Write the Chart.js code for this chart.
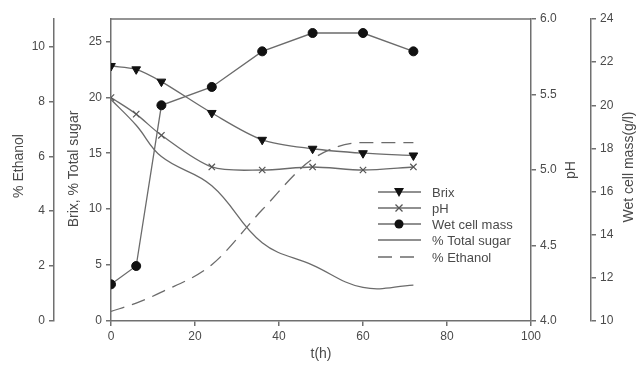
<!DOCTYPE html>
<html>
<head>
<meta charset="utf-8">
<script src="https://cdn.jsdelivr.net/npm/chart.js@4/dist/chart.umd.min.js"></script>
<style>
  html, body { margin: 0; padding: 0; background: #fff; }
  #wrap { width: 640px; height: 370px; }
</style>
</head>
<body>
<div id="wrap"><canvas id="fermChart" width="640" height="370"></canvas></div>
<script>
// fermentation data
const hours = [0, 6, 12, 24, 36, 48, 60, 72];
const brix = [22.8, 22.5, 21.4, 18.6, 16.2, 15.4, 15.0, 14.8];
const pH = [5.48, 5.37, 5.23, 5.02, 5.00, 5.02, 5.00, 5.02];
const wetCellMass = [11.7, 12.55, 20.0, 20.85, 22.5, 23.35, 23.35, 22.5];
const totalSugar = [19.8, 17.5, 14.7, 12.1, 7.0, 5.0, 3.0, 3.2];
const ethanol = [0.35, 0.65, 1.05, 2.05, 4.05, 5.9, 6.5, 6.5];

const seriesNames = ["Brix", "pH", "Wet cell mass", "% Total sugar", "% Ethanol"];
const axisTitles = ["% Ethanol", "Brix, % Total sugar", "pH", "Wet cell mass(g/l)", "t(h)"];

const LINE = '#6b6b6b';
const AXIS = '#707070';
const TEXT = '#4a4a4a';
const FONT = "'Liberation Sans', Arial, sans-serif";

function pts(ys) {
  return hours.map(function(h, i) { return { x: h, y: ys[i] }; });
}

function fixWidth(w) {
  return function(scale) { scale.width = w; };
}

function yAxis(pos, weight, min, max, step, width, fmt, keep) {
  return {
    type: 'linear',
    position: pos,
    weight: weight,
    min: min,
    max: max,
    afterFit: fixWidth(width),
    afterBuildTicks: function(scale) {
      scale.ticks = scale.ticks.filter(function(t) { return keep(t.value); });
    },
    border: { display: true, color: AXIS, width: 1.5 },
    grid: { display: true, drawOnChartArea: false, drawTicks: true, tickLength: 5, color: AXIS, lineWidth: 1.5 },
    ticks: {
      stepSize: step,
      padding: 4,
      color: TEXT,
      font: { family: FONT, size: 12 },
      callback: fmt
    }
  };
}

// frame, rotated axis titles and the legend inside the plot
const extras = {
  id: 'extras',
  afterDraw: function(chart) {
    const ctx = chart.ctx;
    const a = chart.chartArea;
    ctx.save();
    ctx.strokeStyle = AXIS;
    ctx.lineWidth = 1.5;
    ctx.beginPath();
    ctx.moveTo(a.left, a.top);
    ctx.lineTo(a.right, a.top);
    ctx.stroke();

    ctx.fillStyle = TEXT;
    ctx.font = '14px ' + FONT;
    ctx.textAlign = 'center';
    ctx.textBaseline = 'middle';
    const titlePos = [[19, 166], [74, 169], [571, 170], [629, 167]];
    titlePos.forEach(function(p, i) {
      ctx.save();
      ctx.translate(p[0], p[1]);
      ctx.rotate(-Math.PI / 2);
      ctx.fillText(axisTitles[i], 0, 0);
      ctx.restore();
    });
    ctx.fillText(axisTitles[4], 321, 354);

    // legend
    const rows = [192, 208, 224, 240, 257];
    ctx.font = '13px ' + FONT;
    ctx.textAlign = 'left';
    rows.forEach(function(y, i) {
      ctx.strokeStyle = LINE;
      ctx.lineWidth = 1.3;
      if (i === 4) {
        ctx.setLineDash([14, 8]);
      } else {
        ctx.setLineDash([]);
      }
      ctx.beginPath();
      ctx.moveTo(378, y);
      ctx.lineTo(421, y);
      ctx.stroke();
      ctx.setLineDash([]);
      const cx = 399;
      if (i === 0) {
        ctx.fillStyle = '#111';
        ctx.beginPath();
        ctx.moveTo(cx - 5, y - 4);
        ctx.lineTo(cx + 5, y - 4);
        ctx.lineTo(cx, y + 5);
        ctx.closePath();
        ctx.fill();
      } else if (i === 1) {
        ctx.strokeStyle = '#555';
        ctx.beginPath();
        ctx.moveTo(cx - 3.5, y - 3.5); ctx.lineTo(cx + 3.5, y + 3.5);
        ctx.moveTo(cx + 3.5, y - 3.5); ctx.lineTo(cx - 3.5, y + 3.5);
        ctx.stroke();
      } else if (i === 2) {
        ctx.fillStyle = '#111';
        ctx.beginPath();
        ctx.arc(cx, y, 4.5, 0, Math.PI * 2);
        ctx.fill();
      }
      ctx.fillStyle = TEXT;
      ctx.fillText(seriesNames[i], 432, y + 1);
    });
    ctx.restore();
  }
};

const fermChart = new Chart(document.getElementById('fermChart'), {
  type: 'line',
  data: {
    datasets: [
      {
        label: seriesNames[0], data: pts(brix), yAxisID: 'yBrix',
        borderColor: LINE, borderWidth: 1.3, tension: 0.3,
        pointStyle: 'triangle', pointRotation: 180, pointRadius: 5,
        pointBackgroundColor: '#111', pointBorderColor: '#111', pointBorderWidth: 1
      },
      {
        label: seriesNames[1], data: pts(pH), yAxisID: 'yPH',
        borderColor: LINE, borderWidth: 1.3, tension: 0.3,
        pointStyle: 'crossRot', pointRadius: 4.5,
        pointBorderColor: '#555', pointBorderWidth: 1.2
      },
      {
        label: seriesNames[2], data: pts(wetCellMass), yAxisID: 'yWet',
        borderColor: LINE, borderWidth: 1.3, tension: 0,
        pointStyle: 'circle', pointRadius: 4.5,
        pointBackgroundColor: '#111', pointBorderColor: '#111', pointBorderWidth: 1
      },
      {
        label: seriesNames[3], data: pts(totalSugar), yAxisID: 'yBrix',
        borderColor: LINE, borderWidth: 1.3, tension: 0.4, pointRadius: 0
      },
      {
        label: seriesNames[4], data: pts(ethanol), yAxisID: 'yEth',
        borderColor: LINE, borderWidth: 1.3, cubicInterpolationMode: 'monotone', pointRadius: 0,
        borderDash: [14, 8]
      }
    ]
  },
  options: {
    responsive: false,
    animation: false,
    layout: { padding: { top: 19, left: 0, right: 0, bottom: 0 } },
    plugins: {
      legend: { display: false },
      tooltip: { enabled: false }
    },
    scales: {
      x: {
        type: 'linear',
        min: 0,
        max: 100,
        afterFit: function(scale) { scale.height = 49; },
        border: { display: true, color: AXIS, width: 1.5 },
        grid: { display: true, drawOnChartArea: false, tickLength: 5, color: AXIS, lineWidth: 1.5 },
        ticks: { stepSize: 20, padding: 3, color: TEXT, font: { family: FONT, size: 12 } }
      },
      yEth: yAxis('left', 2, 0, 11, 2, 54,
        function(v) { return v; },
        function(v) { return v % 2 === 0; }),
      yBrix: yAxis('left', 1, 0, 27, 5, 57,
        function(v) { return v; },
        function(v) { return v % 5 === 0; }),
      yPH: yAxis('right', 1, 4, 6, 0.5, 60,
        function(v) { return v.toFixed(1); },
        function(v) { return true; }),
      yWet: yAxis('right', 2, 10, 24, 2, 49,
        function(v) { return v; },
        function(v) { return v % 2 === 0; })
    }
  },
  plugins: [extras]
});
</script>
</body>
</html>
